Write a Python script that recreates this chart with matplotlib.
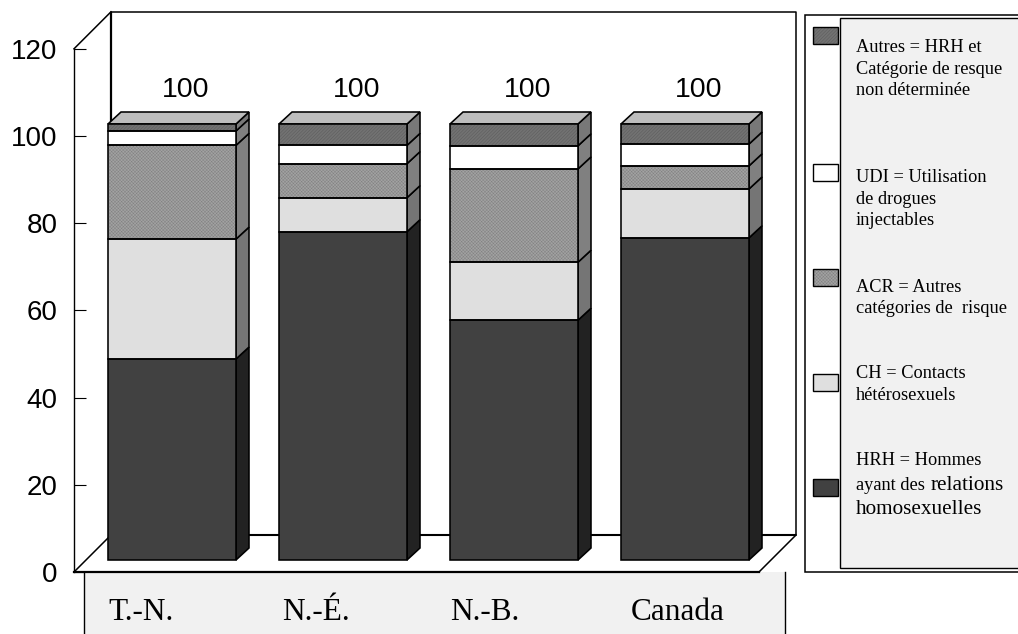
import matplotlib
matplotlib.use('Agg')
import matplotlib.pyplot as plt
from matplotlib.patches import Polygon, Rectangle

categories = ['T.-N.', 'N.-É.', 'N.-B.', 'Canada']
hrh = [46.1, 75.3, 55.0, 73.9]
ch = [27.5, 7.8, 13.3, 11.2]
acr = [21.5, 7.8, 21.4, 5.3]
udi = [3.3, 4.2, 5.3, 5.0]
autres = [1.6, 4.9, 5.0, 4.6]
totals = [100, 100, 100, 100]
yticks = [0, 20, 40, 60, 80, 100, 120]

W, H = 1018, 634
plt.rcParams['hatch.linewidth'] = 0.3

# couleurs: face, hachure, couleur de hachure, cote
styles = [
    ('#414141', None, None, '#222222'),
    ('#dfdfdf', None, None, '#757575'),
    ('#a2a2a2', 'xxxxxxxxxx', '#808080', '#808080'),
    ('#ffffff', None, None, '#808080'),
    ('#727272', '//////////', '#585858', '#787878'),
]
series = [hrh, ch, acr, udi, autres]

fig = plt.figure(figsize=(W / 100, H / 100), dpi=100, facecolor='white')

# axe principal: x = categories, y = pourcentage
left, right, top, bottom = 74, 796, 12, 572
ax = fig.add_axes([left / W, 1 - bottom / H, (right - left) / W, (bottom - top) / H])
px_x = 171.0  # pixels par categorie
px_y = 4.36   # pixels par unite
ax.set_xlim((left - 172) / px_x, (right - 172) / px_x)
ax.set_ylim(0, (bottom - top) / px_y)
ax.patch.set_alpha(0)
for s in ['top', 'right', 'bottom']:
    ax.spines[s].set_visible(False)
ax.spines['left'].set_bounds(0, 120)
ax.spines['left'].set_linewidth(1.0)
ax.set_xticks([])
ax.set_yticks(yticks)
ax.tick_params(axis='y', direction='in', length=8.6, width=0.8, pad=12)
for lab in ax.get_yticklabels():
    lab.set_fontfamily('Liberation Sans')
    lab.set_fontsize(20)

# parois du graphique en perspective
wall_x = 37 / px_x
wall_y = 37 / px_y
xa, xb = ax.get_xlim()
xf = xb - wall_x
lk = dict(color='black', lw=1.1, clip_on=False, zorder=1, solid_capstyle='projecting')
ax.plot([xa, xa + wall_x], [120, 120 + wall_y], **lk)
ax.plot([xa + wall_x, xa + wall_x], [wall_y, 120 + wall_y], color='black', lw=1.6, zorder=1)
ax.plot([xa + wall_x, xb, xb], [120 + wall_y, 120 + wall_y, wall_y], **lk)
ax.plot([xa + wall_x, xb], [wall_y, wall_y], color='black', lw=1.5, zorder=1)
ax.plot([xa, xa + wall_x], [0, wall_y], **lk)
ax.plot([xf, xb], [0, wall_y], **lk)

# barres empilees 3D
width = 128 / px_x
dx = 13 / px_x
dy = 12 / px_y
base = dy
for i in range(len(categories)):
    x0 = i - width / 2
    x1 = i + width / 2
    b = base
    for vals, (face, hatch, hcol, side) in zip(series, styles):
        v = vals[i]
        ax.add_patch(Polygon([(x1, b), (x1 + dx, b + dy), (x1 + dx, b + v + dy), (x1, b + v)],
                             facecolor=side, edgecolor='black', lw=1.15, zorder=3))
        ax.bar(i, v, width, bottom=b, color=face, hatch=hatch, edgecolor=hcol if hatch else face,
               lw=0, zorder=4)
        ax.bar(i, v, width, bottom=b, fill=False, edgecolor='black', lw=1.15, zorder=5)
        b += v
    ax.add_patch(Polygon([(x0, b), (x0 + dx, b + dy), (x1 + dx, b + dy), (x1, b)],
                         facecolor='#bdbdbd', edgecolor='black', lw=1.15, zorder=3))
    ax.text(i + 0.082, totals[i] + 10.5, str(totals[i]), ha='center', va='center',
            fontsize=20.5, family='Liberation Sans', zorder=6)

# couche en pixels pour les boites de texte
ov = fig.add_axes([0, 0, 1, 1], zorder=5)
ov.set_xlim(0, W)
ov.set_ylim(H, 0)
ov.axis('off')
ov.patch.set_alpha(0)

# bandeau des categories
ov.add_patch(Rectangle((84, bottom), 701, H - bottom + 3, facecolor='#f1f1f1', edgecolor='none'))
ov.plot([left, 759], [bottom, bottom], color='black', lw=1.6)
ov.plot([84, 84], [bottom, H], color='black', lw=1.0)
ov.plot([785, 785], [bottom, H], color='black', lw=1.0)
cat_x = [108, 282, 450, 631]
for xp, name in zip(cat_x, categories):
    ov.text(xp, 620, name, family='Liberation Serif', fontsize=22.5, ha='left', va='baseline')

# legende
ov.add_patch(Rectangle((805, 15), 220, 557, facecolor='white', edgecolor='black', lw=1.1))
ov.add_patch(Rectangle((840, 18), 190, 550, facecolor='#f1f1f1', edgecolor='black', lw=1.0))
swatch_y = [479, 374, 269, 164, 27]
for sy, (face, hatch, hcol, side) in zip(swatch_y, styles):
    ov.add_patch(Rectangle((813, sy), 25, 17, facecolor=face, hatch=hatch,
                           edgecolor=hcol if hatch else face, lw=0))
    ov.add_patch(Rectangle((813, sy), 25, 17, fill=False, edgecolor='black', lw=1.0))

legend_lines = [
    ('Autres = HRH et', 52), ('Catégorie de resque', 74), ('non déterminée', 95),
    ('UDI = Utilisation', 182), ('de drogues', 204), ('injectables', 225),
    ('ACR = Autres', 292), ('catégories de  risque', 313),
    ('CH = Contacts', 378), ('hétérosexuels', 400),
    ('HRH = Hommes', 465),
]
for txt, yp in legend_lines:
    ov.text(856, yp, txt, family='Liberation Serif', fontsize=13.2, ha='left', va='baseline')
ov.text(856, 490, 'ayant des', family='Liberation Serif', fontsize=13.2, ha='left', va='baseline')
ov.text(931, 490, 'relations', family='Liberation Serif', fontsize=15.3, ha='left', va='baseline')
ov.text(856, 514, 'homosexuelles', family='Liberation Serif', fontsize=15.3, ha='left', va='baseline')

fig.savefig('out.png', dpi=100)
